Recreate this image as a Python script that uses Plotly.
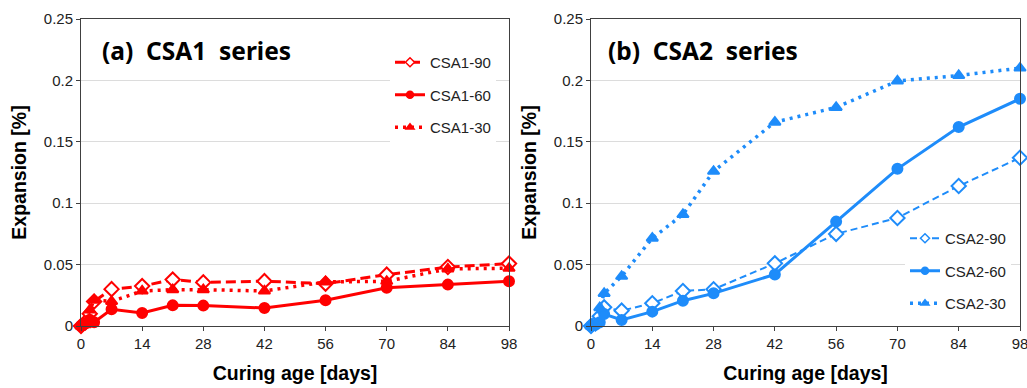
import plotly.graph_objects as go

days = [0, 1, 2, 3, 7, 14, 21, 28, 42, 56, 70, 84, 98]
x_ticks = [0, 14, 28, 42, 56, 70, 84, 98]
y_ticks = [0, 0.05, 0.1, 0.15, 0.2, 0.25]

csa1_90 = [0, 0.003, 0.010, 0.020, 0.030, 0.0325, 0.0378, 0.0355, 0.0365, 0.0345, 0.0418, 0.048, 0.0508]
csa1_60 = [0, 0.002, 0.005, 0.003, 0.0136, 0.0106, 0.0168, 0.0166, 0.0147, 0.0209, 0.0312, 0.0337, 0.0364]
csa1_30 = [0, 0.001, 0.013, 0.021, 0.020, 0.0285, 0.0296, 0.0296, 0.0285, 0.0359, 0.0364, 0.0465, 0.047]

csa2_90 = [0, 0.002, 0.008, 0.0152, 0.0125, 0.0185, 0.0285, 0.0299, 0.051, 0.075, 0.088, 0.114, 0.137]
csa2_60 = [0, 0.001, 0.003, 0.0098, 0.0049, 0.0117, 0.0206, 0.0266, 0.042, 0.085, 0.128, 0.162, 0.185]
csa2_30 = [0, 0.001, 0.0149, 0.0265, 0.0405, 0.0715, 0.0908, 0.126, 0.166, 0.178, 0.1995, 0.204, 0.210]

RED = "#FF0000"
BLUE = "#1E8CFA"
FONT = "Arial, Liberation Sans, sans-serif"
AXC = "#404040"

series = [
    # name, values, xaxis, yaxis, legend, color, dash, width, symbol, size, fill
    ("CSA1-90", csa1_90, "x", "y", "legend", RED, "10px,5px", 3, "diamond", 11, "white"),
    ("CSA1-60", csa1_60, "x", "y", "legend", RED, "solid", 3, "circle", 10, RED),
    ("CSA1-30", csa1_30, "x", "y", "legend", RED, "3px,5px", 3.5, "triangle-up", 10, RED),
    ("CSA2-90", csa2_90, "x2", "y2", "legend2", BLUE, "7px,4px", 2, "diamond", 11, "white"),
    ("CSA2-60", csa2_60, "x2", "y2", "legend2", BLUE, "solid", 3, "circle", 10, BLUE),
    ("CSA2-30", csa2_30, "x2", "y2", "legend2", BLUE, "3px,5px", 3.5, "triangle-up", 10, BLUE),
]

fig = go.Figure()
for name, vals, xa, ya, lg, col, dash, w, sym, sz, fill in series:
    fig.add_trace(go.Scatter(
        x=days, y=vals, xaxis=xa, yaxis=ya, mode="lines+markers",
        line=dict(color=col, width=w, dash=dash),
        marker=dict(symbol=sym, size=sz, color=fill, line=dict(color=col, width=2)),
        cliponaxis=False, showlegend=False, name=name))
for name, vals, xa, ya, lg, col, dash, w, sym, sz, fill in series:
    fig.add_trace(go.Scatter(
        x=[None], y=[None], xaxis=xa, yaxis=ya, mode="lines+markers",
        line=dict(color=col, width=w, dash=dash),
        marker=dict(symbol=sym, size=7, color=fill, line=dict(color=col, width=1.5)),
        name=name, legend=lg, legendgroup=name, showlegend=True))

def xax(domain, anchor):
    return dict(domain=domain, anchor=anchor, range=[0, 98], tickvals=x_ticks,
                showline=True, mirror=True, linecolor=AXC, linewidth=1,
                ticks="outside", ticklen=4, tickcolor=AXC, showgrid=False,
                zeroline=False, automargin=False, ticklabeloverflow="allow",
                tickfont=dict(family=FONT, size=15, color="#222"),
                title=dict(text="<b>Curing age [days]</b>", standoff=15,
                           font=dict(family=FONT, size=19.5, color="black")))

def yax(domain, anchor):
    return dict(domain=domain, anchor=anchor, range=[0, 0.25], tickvals=y_ticks,
                showline=True, mirror=True, linecolor=AXC, linewidth=1,
                ticks="outside", ticklen=4, tickcolor=AXC, showgrid=True,
                gridcolor="#dcdcdc", gridwidth=1, zeroline=False, automargin=False,
                tickfont=dict(family=FONT, size=15, color="#222"),
                title=dict(text="<b>Expansion [%]</b>", standoff=11,
                           font=dict(family=FONT, size=19.5, color="black")))

ydom = [1 - 326 / 388, 1 - 19 / 388]
fig.update_layout(
    template="none",
    width=1027, height=388, autosize=False,
    margin=dict(l=0, r=0, t=0, b=0),
    paper_bgcolor="white", plot_bgcolor="white",
    xaxis=xax([81 / 1027, 509 / 1027], "y"),
    yaxis=yax(ydom, "x"),
    xaxis2=xax([591 / 1027, 1020 / 1027], "y2"),
    yaxis2=yax(ydom, "x2"),
    legend=dict(x=390 / 1027, y=1 - 46 / 388, xanchor="left", yanchor="top",
                bgcolor="white", borderwidth=0, traceorder="grouped",
                tracegroupgap=10, font=dict(family=FONT, size=15, color="#222")),
    legend2=dict(x=905 / 1027, y=1 - 222 / 388, xanchor="left", yanchor="top",
                 bgcolor="white", borderwidth=0, traceorder="grouped",
                 tracegroupgap=10, font=dict(family=FONT, size=15, color="#222")),
    annotations=[
        dict(text="<b>(a)\u00a0 CSA1\u00a0 series</b>", x=100 / 1027, y=1 - 51 / 388,
             xref="paper", yref="paper", xanchor="left", yanchor="middle",
             showarrow=False, font=dict(family="Noto Sans", size=24.5, color="black")),
        dict(text="<b>(b)\u00a0 CSA2\u00a0 series</b>", x=606 / 1027, y=1 - 51 / 388,
             xref="paper", yref="paper", xanchor="left", yanchor="middle",
             showarrow=False, font=dict(family="Noto Sans", size=24.5, color="black")),
    ],
)

fig.write_html("out.html")
